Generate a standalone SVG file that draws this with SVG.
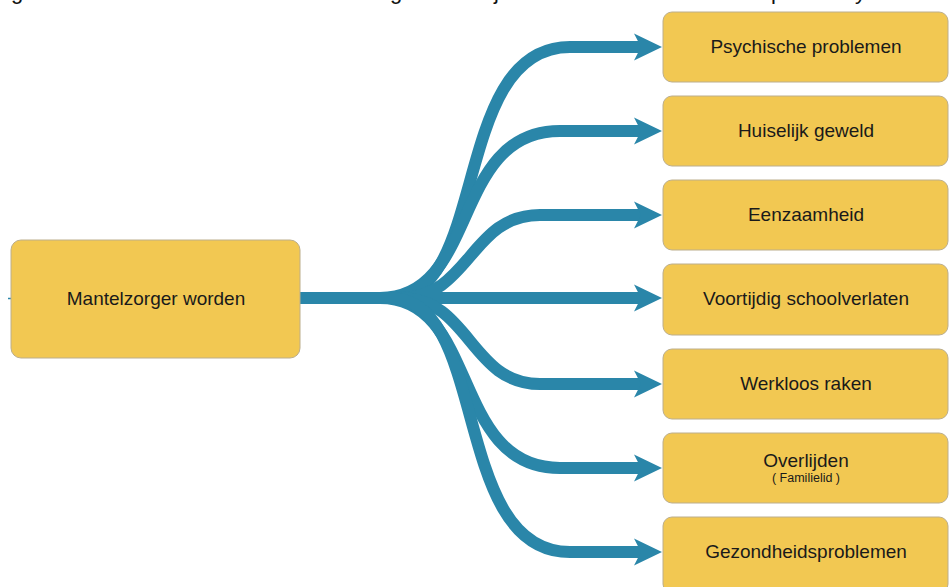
<svg xmlns="http://www.w3.org/2000/svg" width="950" height="587" viewBox="0 0 950 587">
  <style>
    .box { fill: #f2c852; stroke: #bcae8c; stroke-width: 1; }
    .lbl { font-family: "Liberation Sans", Arial, sans-serif; font-size: 19px; fill: #1a1a1a; text-anchor: middle; }
    .sub { font-family: "Liberation Sans", Arial, sans-serif; font-size: 12.5px; fill: #1a1a1a; text-anchor: middle; }
    .edge { fill: none; stroke: #2a86a9; stroke-width: 12; marker-end: url(#head); }
    .cut { font-family: "Liberation Sans", Arial, sans-serif; font-size: 22px; fill: #111; }
  </style>
  <defs>
    <marker id="head" markerUnits="userSpaceOnUse" viewBox="0 -14 29 28" refX="7" refY="0" markerWidth="29" markerHeight="28" orient="auto">
      <path d="M0,-13.5 L28,0 L0,13.5 L7,0 Z" fill="#2a86a9"/>
    </marker>
  </defs>
  <rect width="950" height="587" fill="#ffffff"/>

  <!-- line of text running off the top edge: only descenders remain -->
  <text class="cut" y="-1.5"><tspan x="11">g</tspan><tspan x="390">g</tspan><tspan x="494">j</tspan><tspan x="771">p</tspan><tspan x="855">y</tspan></text>

  <g id="connectors">
    <line x1="8" y1="298.5" x2="11" y2="298.5" stroke="#2a86a9" stroke-width="1.5"/>
    <path class="edge" d="M300,298 L390,298 C490,298 450,47 570,47 L641,47"/>
    <path class="edge" d="M300,298 L380,298 C480,298 450,131 560,131 L641,131"/>
    <path class="edge" d="M300,298 L400,298 C470,298 470,215 540,215 L641,215"/>
    <path class="edge" d="M300,298 L641,298"/>
    <path class="edge" d="M300,298 L400,298 C470,298 470,384 540,384 L641,384"/>
    <path class="edge" d="M300,298 L380,298 C480,298 450,468 560,468 L641,468"/>
    <path class="edge" d="M300,298 L390,298 C490,298 450,552 570,552 L641,552"/>
  </g>

  <g id="mantelzorger">
    <rect class="box" x="11" y="240" width="289" height="118" rx="10"/>
    <text class="lbl" x="156" y="305">Mantelzorger worden</text>
  </g>

  <g id="psychische">
    <rect class="box" x="663" y="12" width="285" height="70" rx="9"/>
    <text class="lbl" x="806" y="53">Psychische problemen</text>
  </g>
  <g id="huiselijk">
    <rect class="box" x="663" y="96" width="285" height="70" rx="9"/>
    <text class="lbl" x="806" y="137">Huiselijk geweld</text>
  </g>
  <g id="eenzaamheid">
    <rect class="box" x="663" y="180" width="285" height="70" rx="9"/>
    <text class="lbl" x="806" y="221">Eenzaamheid</text>
  </g>
  <g id="schoolverlaten">
    <rect class="box" x="663" y="264" width="285" height="71" rx="9"/>
    <text class="lbl" x="806" y="305">Voortijdig schoolverlaten</text>
  </g>
  <g id="werkloos">
    <rect class="box" x="663" y="349" width="285" height="70" rx="9"/>
    <text class="lbl" x="806" y="390">Werkloos raken</text>
  </g>
  <g id="overlijden">
    <rect class="box" x="663" y="433" width="285" height="70" rx="9"/>
    <text class="lbl" x="806" y="467">Overlijden</text>
    <text class="sub" x="806" y="482">( Familielid )</text>
  </g>
  <g id="gezondheid">
    <rect class="box" x="663" y="517" width="285" height="76" rx="9"/>
    <text class="lbl" x="806" y="558">Gezondheidsproblemen</text>
  </g>
</svg>
